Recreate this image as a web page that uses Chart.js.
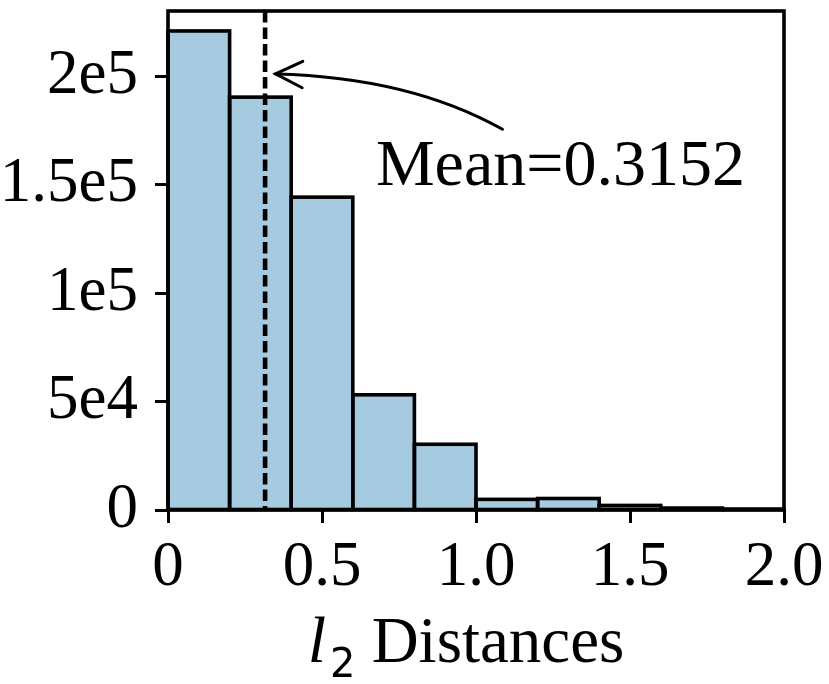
<!DOCTYPE html>
<html><head><meta charset="utf-8">
<script src="https://cdn.jsdelivr.net/npm/chart.js@4.4.0/dist/chart.umd.min.js"></script>
<style>html,body{margin:0;padding:0;background:#fff;}</style>
</head><body>
<canvas id="c" width="829" height="684"></canvas>
<script>
// ---- data ----
const binStarts = [0, 0.2, 0.4, 0.6, 0.8, 1.0, 1.2, 1.4, 1.6, 1.8];
const binWidth = 0.2;
const counts = [220800, 190300, 144200, 53100, 30300, 4900, 5300, 2100, 900, 450];
const meanValue = 0.3152;
const meanLabel = 'Mean=0.3152';
const xTickValues = [0, 0.5, 1.0, 1.5, 2.0];
const xTickLabels = ['0', '0.5', '1.0', '1.5', '2.0'];
const yTickValues = [0, 50000, 100000, 150000, 200000];
const yTickLabels = ['0', '5e4', '1e5', '1.5e5', '2e5'];
const xAxisVar = 'l';
const xAxisSub = '2';
const xAxisText = 'Distances';
// annotation anchors in data units
const arrowTip = {x: 0.349, y: 201000};
const arrowCtrl = {x: 0.784, y: 199500};
const arrowStart = {x: 1.086, y: 175500};
const textAnchor = {x: 0.675, y: 150000};

const SERIF = "'Liberation Serif', 'Times New Roman', serif";

const histData = binStarts.map((s, i) => ({x: s + binWidth / 2, y: counts[i]}));

const overlay = {
  id: 'overlay',
  afterDatasetsDraw(chart) {
    const ctx = chart.ctx;
    const xs = chart.scales.x, ys = chart.scales.y;
    const area = chart.chartArea;
    ctx.save();
    // bar outlines (centered strokes like matplotlib)
    ctx.lineWidth = 3.6;
    ctx.strokeStyle = '#000';
    ctx.lineJoin = 'miter';
    chart.getDatasetMeta(0).data.forEach(bar => {
      const p = bar.getProps(['x', 'y', 'base', 'width'], true);
      ctx.strokeRect(p.x - p.width / 2, p.y, p.width, p.base - p.y);
    });
    // mean dashed line
    const mx = xs.getPixelForValue(meanValue);
    ctx.lineWidth = 4.6;
    ctx.setLineDash([11.5, 5]);
    ctx.beginPath();
    ctx.moveTo(mx, area.top);
    ctx.lineTo(mx, area.bottom);
    ctx.stroke();
    ctx.setLineDash([]);
    // frame
    ctx.lineWidth = 3.6;
    ctx.strokeRect(area.left, area.top, area.right - area.left, area.bottom - area.top);
    // arrow
    const P0 = {x: xs.getPixelForValue(arrowStart.x), y: ys.getPixelForValue(arrowStart.y)};
    const C = {x: xs.getPixelForValue(arrowCtrl.x), y: ys.getPixelForValue(arrowCtrl.y)};
    const P2 = {x: xs.getPixelForValue(arrowTip.x), y: ys.getPixelForValue(arrowTip.y)};
    ctx.lineWidth = 3;
    ctx.lineCap = 'round';
    ctx.beginPath();
    ctx.moveTo(P0.x, P0.y);
    ctx.quadraticCurveTo(C.x, C.y, P2.x, P2.y);
    ctx.stroke();
    const ang = Math.atan2(C.y - P2.y, C.x - P2.x);
    const hl = 30, ha = 26 * Math.PI / 180;
    ctx.beginPath();
    ctx.moveTo(P2.x + hl * Math.cos(ang - ha), P2.y + hl * Math.sin(ang - ha));
    ctx.lineTo(P2.x, P2.y);
    ctx.lineTo(P2.x + hl * Math.cos(ang + ha), P2.y + hl * Math.sin(ang + ha));
    ctx.stroke();
    // mean text
    ctx.fillStyle = '#000';
    ctx.font = '66px ' + SERIF;
    ctx.textBaseline = 'alphabetic';
    ctx.textAlign = 'left';
    ctx.fillText(meanLabel, xs.getPixelForValue(textAnchor.x), ys.getPixelForValue(textAnchor.y));
    // x-axis label with italic variable and subscript
    const fVar = "italic 66px " + SERIF;
    const fSub = "40px 'DejaVu Sans'";
    const fTxt = '65px ' + SERIF;
    ctx.font = fVar; const wVar = ctx.measureText(xAxisVar).width;
    ctx.font = fSub; const wSub = ctx.measureText(xAxisSub).width;
    ctx.font = fTxt; const wSp = ctx.measureText(' ').width; const wTxt = ctx.measureText(xAxisText).width;
    const total = wVar + 4 + wSub + wSp + wTxt;
    const cx = (area.left + area.right) / 2 - 10;
    const base = 662;
    let x0 = cx - total / 2;
    ctx.font = fVar; ctx.fillText(xAxisVar, x0, base);
    x0 += wVar + 4;
    ctx.font = fSub; ctx.fillText(xAxisSub, x0, base + 15);
    x0 += wSub + wSp;
    ctx.font = fTxt; ctx.fillText(xAxisText, x0, base);
    ctx.restore();
  }
};

new Chart(document.getElementById('c'), {
  type: 'bar',
  data: {
    datasets: [{
      data: histData,
      backgroundColor: 'rgb(166,202,224)',
      borderWidth: 0,
      barPercentage: 1,
      categoryPercentage: 1
    }]
  },
  options: {
    responsive: false,
    animation: false,
    devicePixelRatio: 1,
    layout: {padding: {top: 11, right: 45, bottom: 0, left: 0}},
    plugins: {legend: {display: false}, tooltip: {enabled: false}},
    scales: {
      x: {
        type: 'linear', min: 0, max: 2, offset: false,
        grid: {display: true, drawOnChartArea: false, offset: false, tickLength: 13, tickWidth: 3, tickColor: '#000'},
        border: {display: false},
        ticks: {
          color: '#000', padding: 8, maxRotation: 0, autoSkip: false,
          font: {family: SERIF, size: 63},
          callback: (v) => { const i = xTickValues.indexOf(v); return i >= 0 ? xTickLabels[i] : ''; }
        },
        afterBuildTicks: s => { s.ticks = xTickValues.map(v => ({value: v})); },
        afterFit: s => { s.height = 174; s.paddingLeft = 0; s.paddingRight = 0; }
      },
      y: {
        type: 'linear', min: 0, max: 230000,
        grid: {display: true, drawOnChartArea: false, tickLength: 13, tickWidth: 3, tickColor: '#000'},
        border: {display: false},
        ticks: {
          color: '#000', padding: 17,
          font: {family: SERIF, size: 63},
          callback: (v) => { const i = yTickValues.indexOf(v); return i >= 0 ? yTickLabels[i] : ''; }
        },
        afterBuildTicks: s => { s.ticks = yTickValues.map(v => ({value: v})); },
        afterFit: s => { s.width = 168; s.paddingTop = 0; s.paddingBottom = 0; }
      }
    }
  },
  plugins: [overlay]
});
</script>
</body></html>
